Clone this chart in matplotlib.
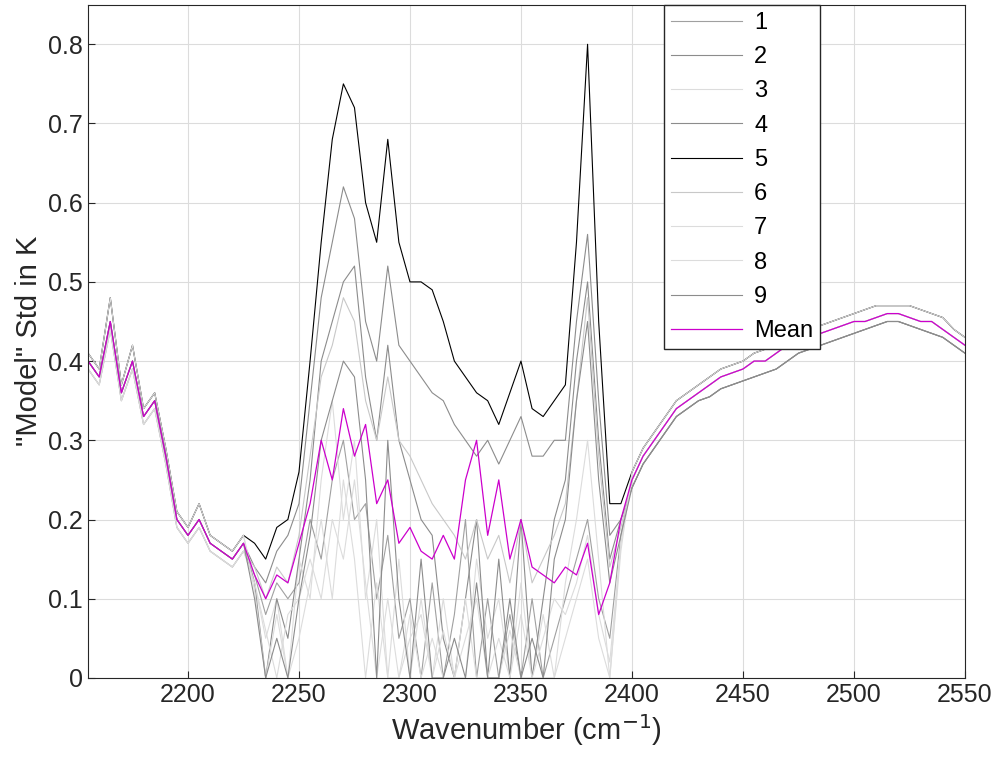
import numpy as np
import matplotlib.pyplot as plt

plt.rcParams['font.family'] = 'Liberation Sans'

# x grid pieces (cm^-1)
x_left = np.arange(2155, 2230, 5)
x_mid = np.arange(2230, 2400, 5)
x_right = np.arange(2400, 2555, 5)
wn = np.concatenate([x_left, x_mid, x_right])

# outer regions
L_mean = [0.40, 0.38, 0.45, 0.36, 0.40, 0.33, 0.35, 0.28, 0.20, 0.18, 0.20, 0.17, 0.16, 0.15, 0.17]
L_hi = [0.41, 0.39, 0.48, 0.37, 0.42, 0.34, 0.36, 0.29, 0.21, 0.19, 0.22, 0.18, 0.17, 0.16, 0.18]
L_lo = [0.39, 0.37, 0.44, 0.35, 0.39, 0.32, 0.34, 0.27, 0.19, 0.17, 0.19, 0.16, 0.15, 0.14, 0.16]
R_mean = [0.25, 0.28, 0.30, 0.32, 0.34, 0.35, 0.36, 0.37, 0.38, 0.385, 0.39, 0.40, 0.40, 0.41, 0.42, 0.425,
          0.43, 0.435, 0.44, 0.445, 0.45, 0.45, 0.455, 0.46, 0.46, 0.455, 0.45, 0.45, 0.44, 0.43, 0.42]
R_hi = [0.26, 0.29, 0.31, 0.33, 0.35, 0.36, 0.37, 0.38, 0.39, 0.395, 0.40, 0.41, 0.415, 0.42, 0.43, 0.435,
        0.44, 0.445, 0.45, 0.455, 0.46, 0.465, 0.47, 0.47, 0.47, 0.47, 0.465, 0.46, 0.455, 0.44, 0.43]
R_lo = [0.24, 0.27, 0.29, 0.31, 0.33, 0.34, 0.35, 0.355, 0.365, 0.37, 0.375, 0.38, 0.385, 0.39, 0.40, 0.41,
        0.415, 0.42, 0.425, 0.43, 0.435, 0.44, 0.445, 0.45, 0.45, 0.445, 0.44, 0.435, 0.43, 0.42, 0.41]

# middle region 2230-2395
M_mean = [0.13, 0.10, 0.13, 0.12, 0.17, 0.22, 0.30, 0.25, 0.34, 0.28, 0.32, 0.22, 0.25, 0.17, 0.19, 0.16, 0.15,
          0.18, 0.15, 0.25, 0.30, 0.18, 0.25, 0.15, 0.20, 0.14, 0.13, 0.12, 0.14, 0.13, 0.17, 0.08, 0.12, 0.20]
M5 = [0.17, 0.15, 0.19, 0.20, 0.26, 0.40, 0.55, 0.68, 0.75, 0.72, 0.60, 0.55, 0.68, 0.55, 0.50, 0.50, 0.49,
      0.45, 0.40, 0.38, 0.36, 0.35, 0.32, 0.36, 0.40, 0.34, 0.33, 0.35, 0.37, 0.55, 0.80, 0.45, 0.22, 0.22]
M2 = [0.14, 0.12, 0.16, 0.18, 0.22, 0.35, 0.48, 0.55, 0.62, 0.58, 0.45, 0.40, 0.52, 0.42, 0.40, 0.38, 0.36,
      0.35, 0.32, 0.30, 0.28, 0.30, 0.27, 0.30, 0.33, 0.28, 0.28, 0.30, 0.30, 0.45, 0.56, 0.35, 0.18, 0.20]
M4 = [0.12, 0.0, 0.10, 0.05, 0.15, 0.25, 0.40, 0.45, 0.50, 0.52, 0.38, 0.30, 0.42, 0.30, 0.25, 0.20, 0.18,
      0.05, 0.0, 0.10, 0.20, 0.0, 0.15, 0.0, 0.20, 0.0, 0.10, 0.20, 0.25, 0.40, 0.50, 0.30, 0.15, 0.20]
M9 = [0.10, 0.0, 0.05, 0.0, 0.10, 0.18, 0.30, 0.35, 0.40, 0.38, 0.25, 0.0, 0.30, 0.10, 0.0, 0.15, 0.0,
      0.0, 0.05, 0.0, 0.12, 0.0, 0.0, 0.10, 0.0, 0.05, 0.0, 0.15, 0.20, 0.35, 0.45, 0.25, 0.12, 0.18]
M1 = [0.13, 0.08, 0.12, 0.10, 0.12, 0.20, 0.15, 0.25, 0.30, 0.20, 0.22, 0.10, 0.18, 0.05, 0.10, 0.0, 0.12,
      0.0, 0.08, 0.20, 0.0, 0.10, 0.0, 0.08, 0.0, 0.10, 0.0, 0.05, 0.10, 0.15, 0.20, 0.10, 0.05, 0.18]
M3 = [0.12, 0.05, 0.10, 0.0, 0.15, 0.10, 0.25, 0.35, 0.20, 0.30, 0.10, 0.20, 0.0, 0.15, 0.0, 0.10, 0.0,
      0.10, 0.0, 0.0, 0.15, 0.05, 0.10, 0.0, 0.12, 0.0, 0.08, 0.0, 0.12, 0.20, 0.30, 0.15, 0.0, 0.17]
M6 = [0.14, 0.10, 0.14, 0.12, 0.18, 0.28, 0.38, 0.42, 0.48, 0.45, 0.35, 0.30, 0.38, 0.30, 0.28, 0.25, 0.22,
      0.20, 0.18, 0.15, 0.20, 0.15, 0.18, 0.12, 0.20, 0.12, 0.15, 0.18, 0.22, 0.35, 0.48, 0.28, 0.14, 0.19]
M7 = [0.11, 0.0, 0.08, 0.0, 0.05, 0.12, 0.20, 0.10, 0.25, 0.15, 0.0, 0.12, 0.0, 0.0, 0.08, 0.0, 0.05,
      0.0, 0.0, 0.10, 0.0, 0.0, 0.05, 0.0, 0.08, 0.0, 0.0, 0.0, 0.05, 0.10, 0.15, 0.05, 0.0, 0.16]
M8 = [0.12, 0.06, 0.0, 0.08, 0.10, 0.15, 0.10, 0.20, 0.15, 0.25, 0.12, 0.0, 0.10, 0.0, 0.05, 0.08, 0.0,
      0.06, 0.0, 0.05, 0.10, 0.0, 0.0, 0.06, 0.0, 0.0, 0.05, 0.10, 0.08, 0.12, 0.18, 0.08, 0.02, 0.17]

s1 = L_lo + M1 + R_mean
s2 = L_mean + M2 + R_lo
s3 = L_hi + M3 + R_hi
s4 = L_mean + M4 + R_lo
s5 = L_hi + M5 + R_hi
s6 = L_lo + M6 + R_mean
s7 = L_hi + M7 + R_hi
s8 = L_lo + M8 + R_mean
s9 = L_mean + M9 + R_lo
mean = L_mean + M_mean + R_mean

series = [s1, s2, s3, s4, s5, s6, s7, s8, s9]
labels = ['1', '2', '3', '4', '5', '6', '7', '8', '9']
colors = ['#a0a0a0', '#8c8c8c', '#dcdcdc', '#8c8c8c', '#000000',
          '#c8c8c8', '#dcdcdc', '#dcdcdc', '#8c8c8c']

fig = plt.figure(figsize=(10.01, 7.81), dpi=100)
ax = fig.add_axes([0.088, 0.132, 0.876, 0.862])

for s, lab, c in zip(series, labels, colors):
    ax.plot(wn, s, color=c, lw=0.8, label=lab)
ax.plot(wn, mean, color='#cc00cc', lw=0.9, label='Mean')

ax.set_xlim(2155, 2550)
ax.set_ylim(0, 0.85)
ax.set_xticks(np.arange(2200, 2551, 50))
ax.set_yticks(np.arange(0, 0.81, 0.1))
ax.set_yticklabels(['0', '0.1', '0.2', '0.3', '0.4', '0.5', '0.6', '0.7', '0.8'])
ax.tick_params(labelsize=18, direction='in', length=5, colors='#262626')
ax.grid(True, color='#dcdcdc', lw=0.8)
for sp in ax.spines.values():
    sp.set_color('#262626')
ax.set_xlabel('Wavenumber (cm$^{-1}$)', fontsize=21, color='#262626')
ax.set_ylabel('"Model" Std in K', fontsize=21, color='#262626')

leg = ax.legend(loc='upper right', bbox_to_anchor=(0.835, 1.0), fontsize=17,
                handlelength=3.0, handletextpad=0.5, labelspacing=0.52, fancybox=False,
                framealpha=1, borderpad=0.3, borderaxespad=0)
leg.get_frame().set_edgecolor('#262626')

plt.savefig('out.png', dpi=100)
